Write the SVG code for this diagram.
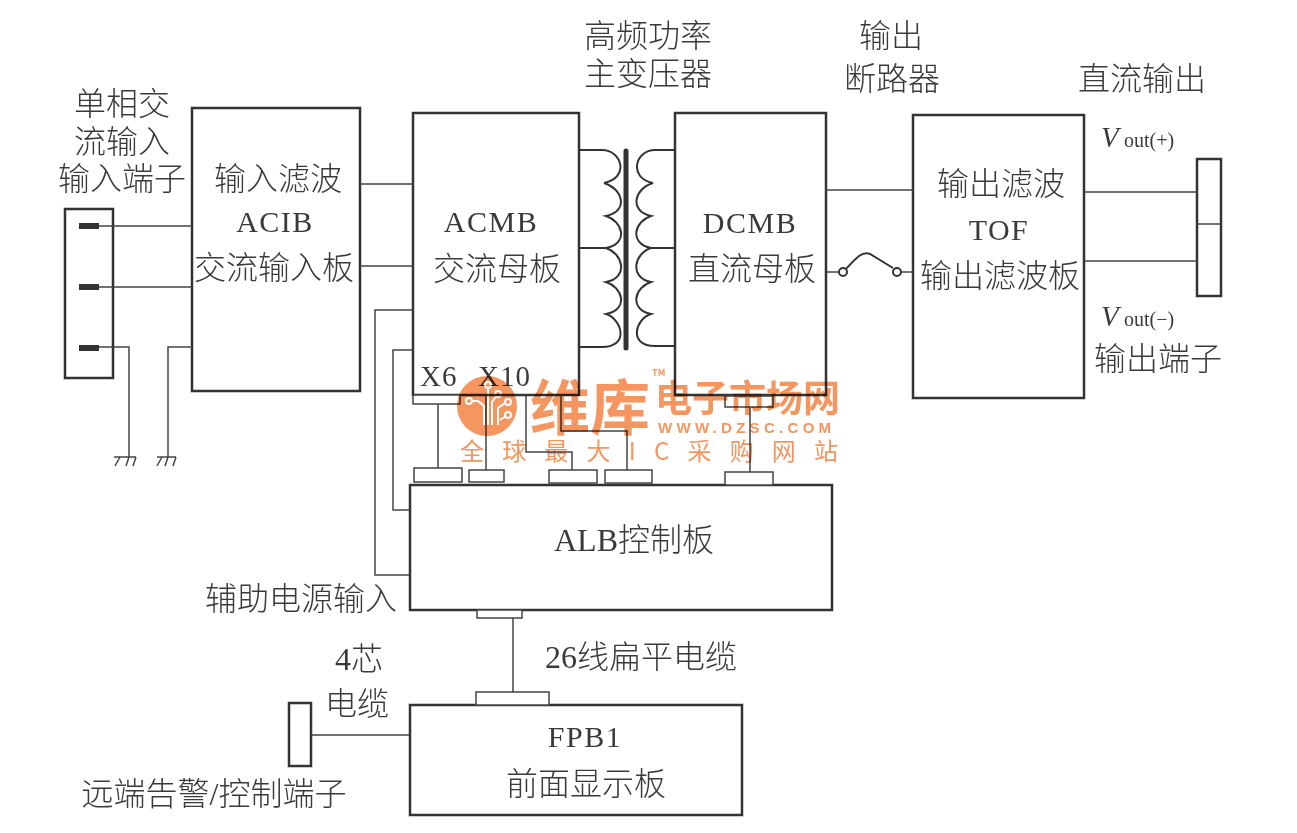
<svg xmlns="http://www.w3.org/2000/svg" width="1297" height="833" viewBox="0 0 1297 833">
<style>
text{fill:#3a3a3a;font-family:"Liberation Serif","Noto Sans CJK SC",serif}
.c{font-size:32px;text-anchor:middle;font-weight:300}
.l{font-size:30px;text-anchor:middle;letter-spacing:1.5px}
.st{font-size:29px;letter-spacing:1px}
.b{fill:#fff;stroke:#333;stroke-width:2.5}
.s{fill:#fff;stroke:#444;stroke-width:1.5}
.w{fill:none;stroke:#444;stroke-width:1.5}
.t{fill:none;stroke:#333;stroke-width:2}
.m{fill:#f5955f;font-family:"Noto Sans CJK SC",sans-serif;font-weight:700}
.wh{fill:none;stroke:#fff;stroke-width:2}
.d{fill:#f5955f;stroke:#fff;stroke-width:2}
</style>
<rect width="1297" height="833" fill="#fff"/>

<g id="input-terminal">
<rect class="b" x="65" y="209" width="48" height="169"/>
<rect x="79" y="223" width="20" height="6" fill="#333"/>
<rect x="79" y="284" width="20" height="6" fill="#333"/>
<rect x="79" y="345" width="20" height="6" fill="#333"/>
</g>
<g id="acib"><rect class="b" x="192" y="108" width="168" height="283"/>
<text class="c" x="278" y="190">输入滤波</text><text class="l" x="275" y="232">ACIB</text><text class="c" x="274" y="279">交流输入板</text></g>
<g id="acmb"><rect class="b" x="413" y="113" width="166" height="282"/>
<text class="l" x="491" y="232">ACMB</text><text class="c" x="497" y="280">交流母板</text>
<text class="st" x="420" y="386">X6</text><text class="st" x="478" y="386">X10</text></g>
<g id="dcmb"><rect class="b" x="675" y="113" width="151" height="282"/>
<text class="l" x="750" y="233">DCMB</text><text class="c" x="752" y="280">直流母板</text></g>
<g id="tof"><rect class="b" x="913" y="115" width="171" height="283"/>
<text class="c" x="1001" y="195">输出滤波</text><text class="l" x="999" y="240">TOF</text><text class="c" x="1000" y="287">输出滤波板</text></g>
<g id="output-terminal"><rect class="b" x="1197" y="159" width="24" height="137"/><line class="w" x1="1197" y1="224" x2="1221" y2="224"/></g>
<g id="alb"><rect class="b" x="410" y="485" width="422" height="125"/>
<text class="c" x="634" y="551">ALB控制板</text></g>
<g id="fpb1"><rect class="b" x="410" y="705" width="332" height="110"/>
<text class="l" x="585" y="747">FPB1</text><text class="c" x="586" y="795">前面显示板</text></g>
<g id="remote-terminal"><rect class="b" x="289" y="703" width="22" height="63"/></g>

<g id="connectors">
<path class="w" d="M99 226H192M99 287H192M99 347H129V457M192 347H168V457"/>
<path class="w" d="M114 457H136M120 457L115 466M129 457L126 466M136 457L133 466M157 457H176M162 457L157 466M168 457L165 466M176 457L173 466"/>
<path class="w" d="M360 184H413M360 266H413"/>
<path class="w" d="M413 310H375V575H410M413 350H393V510H410"/>
<path class="w" d="M826 190H913M826 272H839M901 272H913"/>
<path class="t" d="M846 269C856 258 862 251 870 254L893 268"/>
<circle class="t" cx="843" cy="272" r="4"/>
<circle class="t" cx="897" cy="272" r="4"/>
<path class="w" d="M1084 192H1197M1084 261H1197"/>
<path class="w" d="M438 404V468M486 395V470M526 395V452H572V470M561 395V431H627V470M750 407V472"/>
<path class="w" d="M513 618V692M311 735H410"/>
<path class="t" d="M579 150H602C622 150 630 178 604 183C622 188 630 211 606 216C622 221 630 243 606 248C622 253 630 277 606 282C622 287 630 309 606 314C622 319 630 347 602 347H579M579 248H606"/>
<path class="t" d="M675 150H655C635 150 628 178 653 183C635 188 628 211 651 216C635 221 628 243 651 248C635 253 628 277 651 282C635 287 628 309 651 314C635 319 628 346 655 346H675M675 248H651"/>
<line x1="626" y1="151" x2="626" y2="348" stroke="#333" stroke-width="5" stroke-linecap="round"/>
<rect class="s" x="413" y="395" width="47" height="9"/>
<rect class="s" x="725" y="396" width="48" height="11"/>
<rect class="s" x="414" y="468" width="48" height="14"/>
<rect class="s" x="469" y="470" width="35" height="12"/>
<rect class="s" x="549" y="470" width="48" height="13"/>
<rect class="s" x="605" y="470" width="47" height="13"/>
<rect class="s" x="725" y="472" width="48" height="13"/>
<rect class="s" x="477" y="610" width="45" height="8"/>
<rect class="s" x="476" y="692" width="73" height="13"/>
</g>

<g id="watermark" style="mix-blend-mode:multiply">
<circle cx="487" cy="406" r="30" fill="#f5955f"/>
<path class="wh" d="M469 401H478L484 406V425M488 385V425M498 394L492 402V425M508 401L498 408V425M508 415L500 420"/>
<circle class="d" cx="469" cy="401" r="3"/>
<circle class="d" cx="488" cy="385" r="3"/>
<circle class="d" cx="498" cy="394" r="3"/>
<circle class="d" cx="508" cy="402" r="3"/>
<circle class="d" cx="508" cy="415" r="3"/>
<text class="m" x="530" y="430" font-size="60">维库</text>
<text class="m" x="652" y="376" font-size="9">TM</text>
<text class="m" x="655" y="412" font-size="37">电子市场网</text>
<text class="m" x="658" y="433" font-size="15" letter-spacing="4.3" style="font-family:'Liberation Sans',sans-serif">WWW.DZSC.COM</text>
<text class="m" x="460" y="460" font-size="24" style="font-weight:400" textLength="378">全球最大IC采购网站</text>
</g>

<g id="labels">
<text class="c" x="122" y="115">单相交</text>
<text class="c" x="122" y="153">流输入</text>
<text class="c" x="122" y="190">输入端子</text>
<text class="c" x="648" y="47">高频功率</text>
<text class="c" x="648" y="85">主变压器</text>
<text class="c" x="891" y="47">输出</text>
<text class="c" x="892" y="90">断路器</text>
<text class="c" x="1142" y="90">直流输出</text>
<text x="1101" y="147" font-size="29" font-style="italic">V</text>
<text x="1124" y="147" font-size="20">out(+)</text>
<text x="1101" y="326" font-size="29" font-style="italic">V</text>
<text x="1124" y="326" font-size="20">out(−)</text>
<text class="c" x="1158" y="370">输出端子</text>
<text class="c" x="301" y="610">辅助电源输入</text>
<text class="c" x="641" y="668">26线扁平电缆</text>
<text class="c" x="359" y="670">4芯</text>
<text class="c" x="357" y="715">电缆</text>
<text class="c" x="214" y="805">远端告警/控制端子</text>
</g>
</svg>
